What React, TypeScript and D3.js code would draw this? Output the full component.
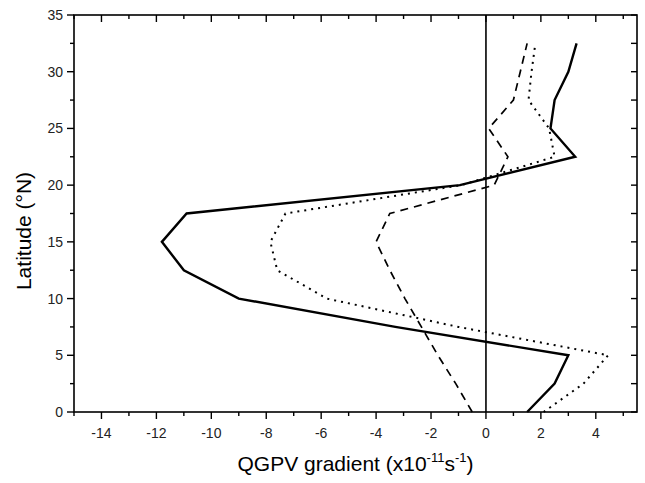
import { scaleLinear, line, range } from 'd3'

// latitude levels (°N) and QGPV gradient profiles (x10^-11 s^-1)
const lats = [0, 2.5, 5, 7.5, 10, 12.5, 15, 17.5, 20, 22.5, 25, 27.5, 30, 32.5]
const solidVals = [1.5, 2.5, 3.0, -3.3, -9.0, -11.0, -11.8, -10.9, -0.95, 3.25, 2.35, 2.5, 3.0, 3.3]
const dashedVals = [-0.5, -1.1, -1.75, -2.35, -2.95, -3.5, -4.0, -3.5, 0.3, 0.8, 0.1, 1.0, 1.25, 1.5]
const dottedVals = [2.1, 3.55, 4.45, -1.0, -5.8, -7.6, -7.85, -7.3, -0.9, 2.5, 2.3, 1.55, 1.66, 1.8]

const xMajor = [-14, -12, -10, -8, -6, -4, -2, 0, 2, 4]
const yMajor = [0, 5, 10, 15, 20, 25, 30, 35]

const fmt = (v: number) => (v < 0 ? '-' + Math.abs(v) : String(v))

export default function App() {
  const W = 645
  const H = 483
  const margin = { left: 74, right: 8, top: 15, bottom: 71 }
  const font = 'Arial, "Liberation Sans", sans-serif'

  const xScale = scaleLinear().domain([-15, 5.5]).range([margin.left, W - margin.right])
  const yScale = scaleLinear().domain([0, 35]).range([H - margin.bottom, margin.top])

  const x0 = margin.left
  const x1 = W - margin.right
  const y0 = H - margin.bottom
  const y1 = margin.top

  const xTicks = range(-15, 6, 1)
  const yTicks = range(0, 35.1, 2.5)

  const path = (vals: number[]) =>
    line<number>()
      .x(d => xScale(d))
      .y((d, i) => yScale(lats[i]))(vals) ?? ''

  const series = [
    { vals: solidVals, width: 2.4, dash: undefined },
    { vals: dashedVals, width: 1.7, dash: '8 6' },
    { vals: dottedVals, width: 2, dash: '2 5' },
  ]

  return (
    <svg width={W} height={H} style={{ position: 'absolute', left: 0, top: 0, background: '#fff' }}>
      {/* zero line */}
      <line x1={xScale(0)} x2={xScale(0)} y1={y0} y2={y1} stroke="#000" strokeWidth={1.6} />

      {series.map((s, i) => (
        <path key={i} d={path(s.vals)} fill="none" stroke="#000"
          strokeWidth={s.width} strokeDasharray={s.dash} strokeLinejoin="miter" />
      ))}

      {/* frame */}
      <rect x={x0} y={y1} width={x1 - x0} height={y0 - y1} fill="none" stroke="#000" strokeWidth={1.6} />

      {/* bottom + top ticks */}
      {xTicks.map(t => {
        const major = t % 2 === 0
        const len = major ? 7 : 4
        return (
          <g key={'x' + t}>
            <line x1={xScale(t)} x2={xScale(t)} y1={y0} y2={y0 + len} stroke="#000" strokeWidth={1.4} />
            <line x1={xScale(t)} x2={xScale(t)} y1={y1} y2={y1 + len} stroke="#000" strokeWidth={1.4} />
          </g>
        )
      })}
      {xMajor.map(t => (
        <text key={'xl' + t} x={xScale(t)} y={y0 + 26} textAnchor="middle"
          fontFamily={font} fontSize={14} fill="#222">{fmt(t)}</text>
      ))}

      {/* left + right ticks */}
      {yTicks.map(t => {
        const major = t % 5 === 0
        const len = major ? 7 : 4
        return (
          <g key={'y' + t}>
            <line x1={x0 - len} x2={x0} y1={yScale(t)} y2={yScale(t)} stroke="#000" strokeWidth={1.4} />
            <line x1={x1 - 6} x2={x1} y1={yScale(t)} y2={yScale(t)} stroke="#000" strokeWidth={1.4} />
          </g>
        )
      })}
      {yMajor.map(t => (
        <text key={'yl' + t} x={x0 - 11} y={yScale(t) + 5} textAnchor="end"
          fontFamily={font} fontSize={14} fill="#222">{t}</text>
      ))}

      {/* axis titles */}
      <text transform={`translate(31,231) rotate(-90)`} textAnchor="middle"
        fontFamily={font} fontSize={21} fill="#000">Latitude (°N)</text>
      <text x={(x0 + x1) / 2} y={471} textAnchor="middle" fontFamily={font} fontSize={21} fill="#000">
        QGPV gradient (x10<tspan fontSize={13} dy={-9}>-11</tspan>
        <tspan dy={9}>s</tspan>
        <tspan fontSize={13} dy={-9}>-1</tspan>
        <tspan dy={9}>)</tspan>
      </text>
    </svg>
  )
}
